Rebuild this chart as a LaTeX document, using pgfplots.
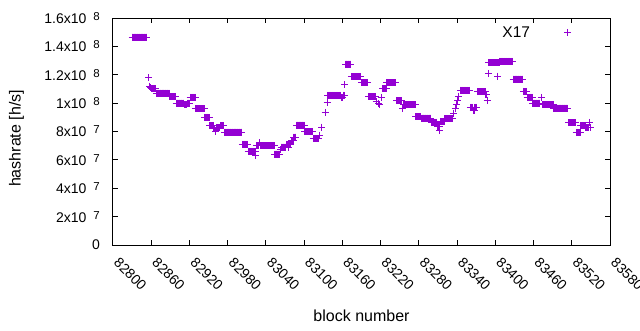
\documentclass[border=0pt]{standalone}
\usepackage{pgfplots}
\pgfplotsset{compat=1.18}
\usepackage{fontspec}
\setmainfont{Liberation Sans}
\definecolor{gpviolet}{RGB}{148,0,211}
\newcommand\sups[1]{\hspace{7pt}\raisebox{3pt}{\fontsize{11.5}{11.5}\selectfont #1}}
\begin{document}
\begin{tikzpicture}
\begin{axis}[
  at={(0pt,0pt)}, anchor=south west,
  scale only axis, width=497pt, height=227pt,
  xmin=82800, xmax=83580, ymin=0, ymax=16,
  scaled x ticks=false, scaled y ticks=false,
  xtick={82800,82860,82920,82980,83040,83100,83160,83220,83280,83340,83400,83460,83520,83580},
  xticklabels={82800,82860,82920,82980,83040,83100,83160,83220,83280,83340,83400,83460,83520,83580},
  ytick={0,2,4,6,8,10,12,14,16},
  yticklabels={0,2x10\sups{7},4x10\sups{7},6x10\sups{7},8x10\sups{7},1x10\sups{8},1.2x10\sups{8},1.4x10\sups{8},1.6x10\sups{8}},
  tick align=inside, major tick length=5pt, minor tick num=0,
  tick label style={font=\fontsize{14}{15}\selectfont},
  xticklabel style={xshift=7pt, yshift=-11.5pt, rotate=-45, anchor=north west, inner sep=0pt},
  yticklabel style={xshift=-13pt, anchor=east, inner sep=0pt},
  xlabel={block number}, ylabel={hashrate [h/s]},
  every axis x label/.style={at={(axis description cs:0.5,0)}, yshift=-71pt, anchor=center, font=\fontsize{16}{17}\selectfont},
  every axis y label/.style={at={(axis description cs:0,0.5)}, xshift=-96.5pt, yshift=-7pt, rotate=90, anchor=center, font=\fontsize{16}{17}\selectfont},
  axis line style={line width=1pt},
  every tick/.style={black, line width=1pt},
  legend cell align=right,
  legend plot pos=right,
  legend style={draw=none, fill=none, at={(axis description cs:1,0.936)}, anchor=east, inner sep=0pt, outer sep=0pt, font=\fontsize{15.5}{16}\selectfont},
  legend image code/.code={\path (0pt,-4pt) (77pt,4pt); \draw[#1] plot coordinates {(35pt,0pt)};},
]
\addplot[only marks, mark=+, mark size=3.5pt, gpviolet, line width=1pt] coordinates {
(82830,14.65)(82831,14.65)(82832,14.65)(82833,14.65)(82834,14.65)(82835,14.65)(82836,14.65)(82837,14.65)(82838,14.65)(82839,14.65)(82840,14.65)(82841,14.65)
(82842,14.65)(82843,14.65)(82844,14.65)(82845,14.65)(82846,14.65)(82847,14.65)(82848,14.65)(82849,14.65)(82850,14.65)(82851,14.65)(82852,14.65)(82853,14.65)
(82856,11.8)(82858,11.2)(82859,11.1)
(82860,11.0)(82861,11.0)(82862,11.0)(82863,11.0)(82864,11.0)(82865,11.0)(82866,11.0)(82867,11.0)
(82868,10.7)(82869,10.7)(82870,10.7)(82871,10.7)(82872,10.7)(82873,10.7)(82874,10.7)(82875,10.7)(82876,10.7)(82877,10.7)(82878,10.7)
(82879,10.7)(82880,10.7)(82881,10.7)(82882,10.7)(82883,10.7)(82884,10.7)(82885,10.7)(82886,10.7)(82887,10.7)(82888,10.7)
(82889,10.45)(82890,10.45)(82891,10.45)(82892,10.45)(82893,10.45)(82894,10.45)(82895,10.45)(82896,10.45)(82897,10.45)(82898,10.45)
(82899,10.0)(82900,10.0)(82901,10.0)(82902,10.0)(82903,10.0)(82904,10.0)(82905,10.0)(82906,10.0)(82907,10.0)(82908,10.0)(82909,10.0)(82910,10.0)(82911,10.0)
(82912,9.9)(82913,9.9)(82914,9.9)(82915,9.9)(82916,9.9)(82917,10.0)(82918,10.0)(82919,10.0)(82920,10.0)
(82921,10.4)(82922,10.4)(82923,10.4)(82924,10.4)(82925,10.4)(82926,10.4)(82927,10.4)(82928,10.4)(82929,10.4)
(82930,9.6)(82931,9.6)(82932,9.6)(82933,9.6)(82934,9.6)(82935,9.6)(82936,9.6)(82937,9.6)(82938,9.6)(82939,9.6)(82940,9.6)(82941,9.6)(82942,9.6)(82943,9.6)
(82944,9.0)(82945,9.0)(82946,9.0)(82947,9.0)(82948,9.0)(82949,9.0)(82950,9.0)(82951,9.0)
(82952,8.4)(82953,8.4)(82954,8.4)(82955,8.4)(82956,8.4)(82957,8.4)(82958,8.2)(82959,8.2)(82960,8.2)(82961,8.0)
(82962,8.25)(82963,8.25)(82964,8.25)(82965,8.25)(82966,8.25)(82967,8.25)
(82968,8.4)(82969,8.4)(82970,8.4)(82971,8.4)(82972,8.4)(82973,8.4)(82974,8.4)
(82975,7.95)(82976,7.95)(82977,7.95)(82978,7.95)(82979,7.95)(82980,7.95)(82981,7.95)(82982,7.95)(82983,7.95)(82984,7.95)(82985,7.95)(82986,7.95)(82987,7.95)(82988,7.95)
(82989,7.95)(82990,7.95)(82991,7.95)(82992,7.95)(82993,7.95)(82994,7.95)(82995,7.95)(82996,7.95)(82997,7.95)(82998,7.95)(82999,7.95)(83000,7.95)(83001,7.95)(83002,7.95)
(83003,7.1)(83004,7.1)(83005,7.1)(83006,7.1)(83007,7.1)(83008,7.1)(83009,7.1)(83010,7.1)(83011,7.1)
(83012,6.6)(83013,6.6)(83014,6.6)(83015,6.6)(83016,6.6)(83017,6.6)(83018,6.6)(83019,6.6)(83020,6.6)(83021,6.6)(83022,6.6)(83023,6.6)
(83024,6.3)
(83025,7.0)(83026,7.0)(83027,7.0)(83028,7.0)(83029,7.0)(83030,7.2)(83031,7.0)(83032,7.0)(83033,7.0)(83034,7.0)(83035,7.0)(83036,7.0)(83037,7.0)(83038,7.0)(83039,7.0)
(83040,7.0)(83041,7.0)(83042,7.0)(83043,7.0)(83044,7.0)(83045,7.0)(83046,7.0)(83047,7.0)(83048,7.0)(83049,7.0)(83050,7.0)(83051,7.0)(83052,7.0)(83053,7.0)
(83054,6.4)(83055,6.4)(83056,6.4)(83057,6.4)(83058,6.4)(83059,6.4)(83060,6.4)(83061,6.4)(83062,6.4)
(83063,6.7)
(83064,6.9)(83065,6.9)(83066,6.9)(83067,6.9)(83068,6.9)(83069,6.9)(83070,6.9)(83071,6.9)
(83072,7.1)(83073,7.1)(83074,7.1)(83075,7.1)(83076,6.85)(83077,7.1)(83078,7.1)(83079,7.1)
(83080,7.35)(83081,7.35)(83082,7.35)(83083,7.35)(83084,7.6)(83085,7.6)(83086,7.6)(83087,7.6)
(83088,8.45)(83089,8.45)(83090,8.45)(83091,8.45)(83092,8.45)(83093,8.45)(83094,8.45)(83095,8.45)(83096,8.45)(83097,8.45)(83098,8.45)(83099,8.45)(83100,8.45)
(83101,8.0)(83102,8.0)(83103,8.0)(83104,8.0)(83105,8.0)(83106,8.0)(83107,8.0)(83108,8.0)(83109,8.0)(83110,8.0)(83111,8.0)(83112,8.0)(83113,8.0)
(83114,7.5)(83115,7.5)(83116,7.5)(83117,7.5)(83118,7.5)(83119,7.5)(83120,7.5)(83121,7.5)(83122,7.5)
(83124,7.75)(83128,8.3)(83133,9.35)(83136,10.05)
(83137,10.55)(83138,10.55)(83139,10.55)(83140,10.55)(83141,10.55)(83142,10.55)(83143,10.55)(83144,10.55)(83145,10.55)(83146,10.55)(83147,10.55)
(83148,10.55)(83149,10.55)(83150,10.55)(83151,10.55)(83152,10.55)(83153,10.55)(83154,10.55)(83155,10.55)(83156,10.55)(83157,10.55)
(83158,10.4)(83159,10.4)(83160,10.4)(83161,10.55)(83162,10.55)(83163,10.55)
(83164,11.3)
(83165,12.75)(83166,12.75)(83167,12.75)(83168,12.75)(83169,12.75)(83170,12.75)(83171,12.75)(83172,12.75)(83173,12.75)
(83174,11.85)(83175,11.85)(83176,11.85)(83177,11.85)(83178,11.85)(83179,11.85)(83180,11.85)(83181,11.85)
(83182,11.85)(83183,11.85)(83184,11.85)(83185,11.85)(83186,11.85)(83187,11.85)(83188,11.85)(83189,11.85)
(83190,11.45)(83191,11.45)(83192,11.45)(83193,11.45)(83194,11.45)(83195,11.45)(83196,11.45)(83197,11.45)(83198,11.45)(83199,11.45)(83200,11.45)
(83201,10.45)(83202,10.45)(83203,10.45)(83204,10.45)(83205,10.45)(83206,10.45)(83207,10.45)(83208,10.45)(83209,10.45)(83210,10.45)(83211,10.45)(83212,10.45)
(83213,10.1)(83217,10.0)(83219,9.87)(83222,10.4)
(83223,11.0)(83224,11.0)(83225,11.0)(83226,11.0)(83227,11.0)(83228,11.0)(83229,11.0)
(83230,11.45)(83231,11.45)(83232,11.45)(83233,11.45)(83234,11.45)(83235,11.45)(83236,11.45)(83237,11.45)
(83238,11.45)(83239,11.45)(83240,11.45)(83241,11.45)(83242,11.45)(83243,11.45)(83244,11.45)
(83245,10.15)(83246,10.15)(83247,10.15)(83248,10.15)(83249,10.15)(83250,10.15)(83251,10.15)(83252,10.15)(83253,10.15)
(83255,9.6)
(83256,9.9)(83257,9.9)(83258,9.9)(83259,9.9)(83260,9.9)(83261,9.9)(83262,9.9)(83263,9.9)(83264,9.9)(83265,9.9)
(83266,9.9)(83267,9.9)(83268,9.9)(83269,9.9)(83270,9.9)(83271,9.9)(83272,9.9)(83273,9.9)(83274,9.9)
(83275,9.05)(83276,9.05)(83277,9.05)(83278,9.05)(83279,9.05)(83280,9.05)(83281,9.05)(83282,9.05)(83283,9.05)
(83284,8.95)(83285,8.95)(83286,8.95)(83287,8.95)(83288,8.95)(83289,8.95)(83290,8.95)(83291,8.95)
(83292,8.95)(83293,8.95)(83294,8.95)(83295,8.95)(83296,8.95)(83297,8.95)(83298,8.95)(83299,8.95)
(83300,8.65)(83301,8.65)(83302,8.65)(83303,8.65)(83304,8.65)(83305,8.65)(83306,8.65)(83307,8.65)(83308,8.65)
(83309,8.35)(83310,8.35)(83311,8.35)(83312,8.35)(83313,8.1)
(83314,8.7)(83315,8.7)(83316,8.7)(83317,8.7)(83318,8.7)(83319,8.7)(83320,8.7)
(83321,8.9)(83322,8.9)(83323,8.9)(83324,8.9)(83325,8.9)(83326,8.9)(83327,8.9)(83328,8.9)(83329,8.9)(83330,8.9)(83331,8.9)(83332,8.9)(83333,8.9)
(83335,9.3)(83337,9.6)(83339,9.9)(83341,10.2)(83343,10.5)
(83345,10.9)(83346,10.9)(83347,10.9)(83348,10.9)(83349,10.9)(83350,10.9)(83351,10.9)(83352,10.9)
(83353,10.9)(83354,10.9)(83355,10.9)(83356,10.9)(83357,10.9)(83358,10.9)(83359,10.9)(83360,10.9)
(83361,9.7)(83362,9.7)(83363,9.7)(83364,9.7)(83365,9.5)(83366,9.5)(83367,9.5)(83368,9.7)(83369,9.7)(83370,9.7)(83371,9.7)
(83372,10.8)(83373,10.8)(83374,10.8)(83375,10.8)(83376,10.8)(83377,10.8)(83378,10.8)(83379,10.8)(83380,10.8)(83381,10.8)(83382,10.8)(83383,10.8)(83384,10.8)
(83385,10.6)(83386,10.6)(83387,10.2)(83389,12.1)
(83390,12.85)(83391,12.85)(83392,12.85)(83393,12.85)(83394,12.85)(83395,12.85)(83396,12.85)(83397,12.85)(83398,12.85)
(83399,12.85)(83400,12.85)(83401,12.85)(83402,12.85)(83403,12.85)(83404,11.9)(83405,12.85)(83406,12.85)
(83407,12.95)(83408,12.95)(83409,12.95)(83410,12.95)(83411,12.95)(83412,12.95)(83413,12.95)(83414,12.95)(83415,12.95)(83416,12.95)(83417,12.95)
(83418,12.95)(83419,12.95)(83420,12.95)(83421,12.95)(83422,12.95)(83423,12.95)(83424,12.95)(83425,12.95)(83426,12.95)(83427,12.95)
(83428,11.7)(83429,11.7)(83430,11.7)(83431,11.7)(83432,11.7)(83433,11.7)(83434,11.7)(83435,11.7)
(83436,11.7)(83437,11.7)(83438,11.7)(83439,11.7)(83440,11.7)(83441,11.7)(83442,11.7)(83443,11.7)
(83444,10.8)(83445,10.8)(83446,10.8)(83447,10.8)(83448,10.8)(83449,10.8)
(83450,10.4)(83451,10.4)(83452,10.4)(83453,10.4)(83454,10.4)(83455,10.4)(83456,10.4)(83457,10.4)(83458,10.4)
(83459,10.0)(83460,10.0)(83461,10.0)(83462,10.0)(83463,10.0)(83464,10.0)(83465,10.0)(83466,10.0)(83467,10.0)(83468,10.0)(83469,10.0)(83470,10.0)
(83472,10.4)
(83474,9.9)(83475,9.9)(83476,9.9)(83477,9.9)(83478,9.9)(83479,9.9)(83480,9.9)(83481,9.9)(83482,9.9)
(83483,9.9)(83484,9.9)(83485,9.9)(83486,9.9)(83487,9.9)(83488,9.9)(83489,9.9)(83490,9.9)(83491,9.9)
(83492,9.65)(83493,9.65)(83494,9.65)(83495,9.65)(83496,9.65)(83497,9.65)(83498,9.65)(83499,9.65)(83500,9.65)(83501,9.65)(83502,9.65)
(83503,9.65)(83504,9.65)(83505,9.65)(83506,9.65)(83507,9.65)(83508,9.65)(83509,9.65)(83510,9.65)(83511,9.65)(83512,9.65)(83513,9.65)
(83515,8.6)(83516,8.6)(83517,8.6)(83518,8.6)(83519,8.6)(83520,8.6)(83521,8.6)(83522,8.6)(83523,8.6)(83524,8.6)(83525,8.6)(83526,8.6)
(83527,7.9)(83528,7.9)(83529,7.9)(83530,7.9)(83531,7.9)(83532,7.9)(83533,7.9)
(83534,8.4)(83535,8.4)(83536,8.4)(83537,8.4)(83538,8.4)(83539,8.4)(83540,8.4)(83541,8.4)
(83542,8.25)(83543,8.25)(83544,8.25)(83545,8.25)(83546,8.25)(83547,8.25)(83548,8.65)(83549,8.25)
};
\addlegendentry{X17}
\end{axis}
\pgfresetboundingbox
\path[use as bounding box] (-113pt,-85pt) rectangle (527pt,245pt);
\end{tikzpicture}
\end{document}
